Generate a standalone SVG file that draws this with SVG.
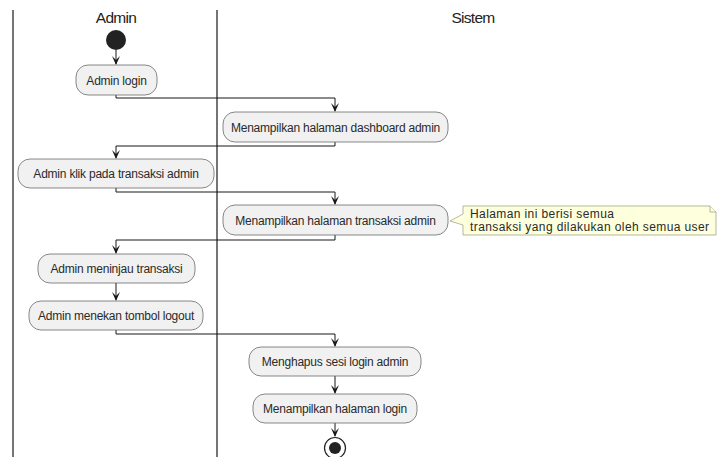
<svg xmlns="http://www.w3.org/2000/svg" width="718" height="457" viewBox="0 0 718 457">
  <style>
    .lane { stroke: #181818; stroke-width: 1.2; }
    .title { font-family: "Liberation Sans", Arial, sans-serif; font-size: 15.5px; fill: #222; text-anchor: middle; letter-spacing: -0.7px; }
    .act rect { fill: #F1F1F1; stroke: #6a6a6a; stroke-width: 0.8; }
    .act text { font-family: "Liberation Sans", Arial, sans-serif; font-size: 12px; fill: #2a2a2a; text-anchor: middle; letter-spacing: -0.22px; }
    .flow { fill: none; stroke: #181818; stroke-width: 1; }
    .head { fill: #181818; }
    .note path { fill: #FEFFDD; stroke: #9a9a7a; stroke-width: 0.7; }
    .note text { font-family: "Liberation Sans", Arial, sans-serif; font-size: 12px; fill: #2a2a2a; letter-spacing: 0.4px; }
  </style>
  <defs>
    <path id="ah" d="M-4,-9 L0,0 L4,-9 L0,-5 Z"/>
  </defs>
  <rect width="718" height="457" fill="#ffffff"/>

  <!-- swimlanes -->
  <g id="lanes">
    <line class="lane" x1="13" y1="10" x2="13" y2="457"/>
    <line class="lane" x1="217" y1="10" x2="217" y2="457"/>
    <text class="title" x="116" y="23">Admin</text>
    <text class="title" x="473" y="23">Sistem</text>
  </g>

  <!-- connectors -->
  <g id="connectors">
    <path class="flow" d="M116,50 V64"/>
    <use href="#ah" class="head" x="116" y="65"/>
    <path class="flow" d="M116,95 V98 H335 V111"/>
    <use href="#ah" class="head" x="335" y="112"/>
    <path class="flow" d="M335,142 V146 H116 V158"/>
    <use href="#ah" class="head" x="116" y="159"/>
    <path class="flow" d="M116,188 V192 H335 V204"/>
    <use href="#ah" class="head" x="335" y="205"/>
    <path class="flow" d="M335,235 V240 H116 V253"/>
    <use href="#ah" class="head" x="116" y="254"/>
    <path class="flow" d="M116,283 V300"/>
    <use href="#ah" class="head" x="116" y="301"/>
    <path class="flow" d="M116,330 V334 H335 V346"/>
    <use href="#ah" class="head" x="335" y="347"/>
    <path class="flow" d="M335,376 V393"/>
    <use href="#ah" class="head" x="335" y="394"/>
    <path class="flow" d="M335,423 V436"/>
    <use href="#ah" class="head" x="335" y="437"/>
  </g>

  <!-- start -->
  <g id="start">
    <circle cx="116" cy="40" r="10" fill="#222222"/>
  </g>

  <g id="admin-login" class="act">
    <rect x="76" y="65" width="81" height="30" rx="12"/>
    <text x="116.5" y="84.5">Admin login</text>
  </g>

  <g id="show-dashboard" class="act">
    <rect x="223" y="112" width="225" height="30" rx="12"/>
    <text x="335.5" y="131.5">Menampilkan halaman dashboard admin</text>
  </g>

  <g id="click-transaction" class="act">
    <rect x="18" y="159" width="196" height="29" rx="12"/>
    <text x="116" y="178">Admin klik pada transaksi admin</text>
  </g>

  <g id="show-transactions" class="act">
    <rect x="223" y="205" width="225" height="30" rx="12"/>
    <text x="335.5" y="224.5">Menampilkan halaman transaksi admin</text>
  </g>

  <g id="transaction-note" class="note">
    <path d="M463,206 H710 L716,212 V235 H463 V225 L450,221 L463,214 Z"/>
    <path d="M710,206 V212 H716" fill="none"/>
    <text x="470" y="218">Halaman ini berisi semua</text>
    <text x="470" y="230.5">transaksi yang dilakukan oleh semua user</text>
  </g>

  <g id="review-transaction" class="act">
    <rect x="38" y="254" width="157" height="29" rx="12"/>
    <text x="116.5" y="273">Admin meninjau transaksi</text>
  </g>

  <g id="press-logout" class="act">
    <rect x="29" y="301" width="174" height="29" rx="12"/>
    <text x="116" y="320">Admin menekan tombol logout</text>
  </g>

  <g id="delete-session" class="act">
    <rect x="249" y="347" width="172" height="29" rx="12"/>
    <text x="335" y="366">Menghapus sesi login admin</text>
  </g>

  <g id="show-login" class="act">
    <rect x="253" y="394" width="164" height="29" rx="12"/>
    <text x="335" y="413">Menampilkan halaman login</text>
  </g>

  <!-- end -->
  <g id="end">
    <circle cx="335" cy="448" r="10.5" fill="#ffffff" stroke="#222222" stroke-width="1.2"/>
    <circle cx="335" cy="448" r="6" fill="#222222"/>
  </g>
</svg>
